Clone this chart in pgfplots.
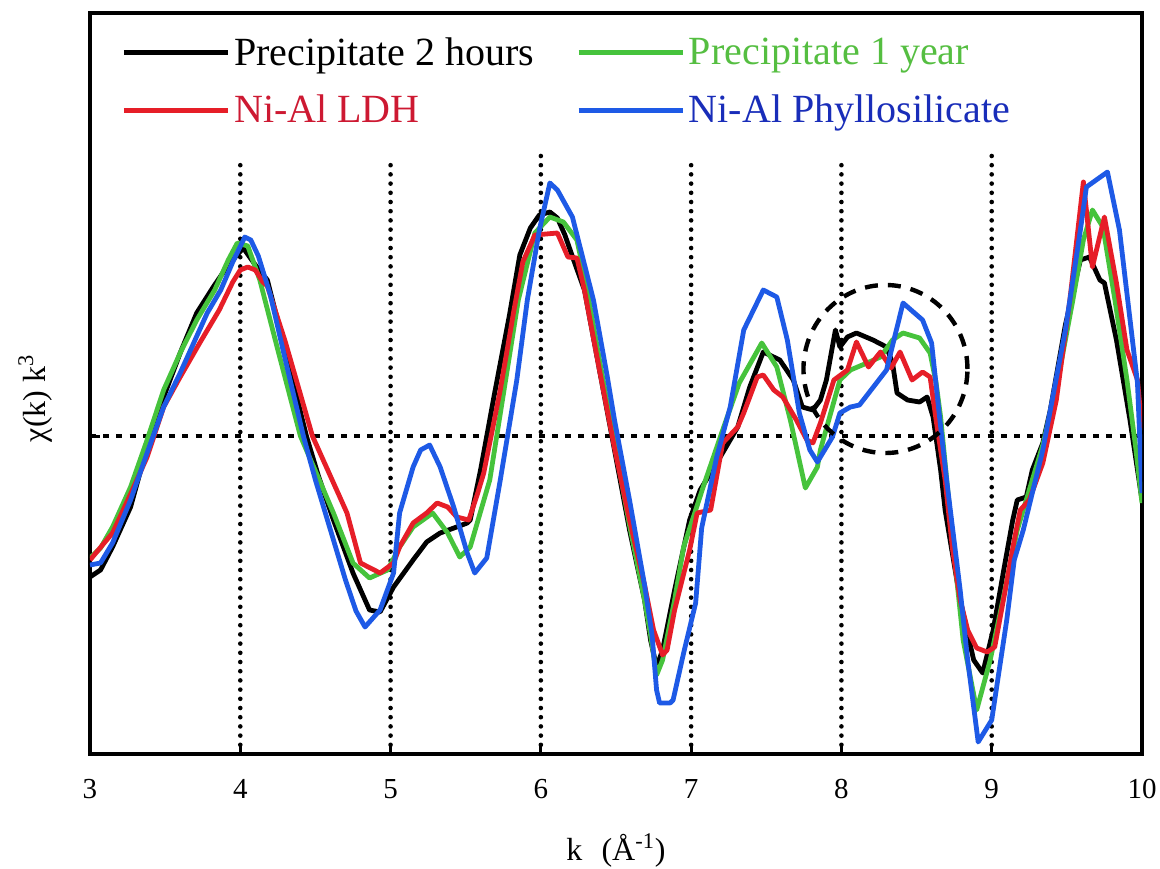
\documentclass[border=0pt]{standalone}
\usepackage{fontspec}
\setmainfont{Liberation Serif}
\usepackage{pgfplots}
\pgfplotsset{compat=1.18}

\definecolor{cgreen}{RGB}{70,195,60}
\definecolor{cred}{RGB}{230,30,40}
\definecolor{cblue}{RGB}{30,90,230}
\definecolor{tgreen}{RGB}{85,190,65}
\definecolor{tred}{RGB}{205,25,50}
\definecolor{tblue}{RGB}{25,45,185}

\tikzset{
  guide/.style={black, line width=2.3pt, line cap=round, dash pattern=on 0pt off 4.6pt},
  zeroline/.style={black, line width=1.7pt, dash pattern=on 3pt off 3.6pt},
  curve/.style={line width=2.4pt, line join=round},
}

\begin{document}
\begin{tikzpicture}
\path[use as bounding box] (-45pt,-57pt) rectangle (535pt,377pt);
\begin{axis}[
  at={(0pt,0pt)}, anchor=south west,
  scale only axis, width=526pt, height=370.5pt,
  xmin=3, xmax=10, ymin=-3.18, ymax=4.23,
  axis line style={line width=2pt},
  xtick={3,4,5,6,7,8,9,10},
  ytick={0}, yticklabels={},
  tick align=inside, xtick pos=bottom, ytick pos=left,
  major tick length=5pt,
  tick style={black, line width=1.5pt},
  /pgf/number format/assume math mode=true,
  ticklabel style={font=\fontsize{14.5}{16}\selectfont},
  xticklabel style={yshift=-9pt},
  xlabel={k\hspace{0.6em}(Å\textsuperscript{-1})},
  ylabel={χ(k) k\textsuperscript{3}},
  label style={font=\fontsize{16}{18}\selectfont},
  xlabel style={at={(axis description cs:0.5,-0.13)}, anchor=center},
  ylabel style={at={(axis description cs:-0.052,0.48)}, anchor=center, rotate=0},
  legend columns=2,
  legend image code/.code={\draw[#1] (0pt,0pt) -- (52pt,0pt);},
  legend style={
    at={(axis description cs:0,1)}, anchor=north west,
    xshift=15.5pt, yshift=-10pt,
    draw=none, fill=none, inner sep=0pt,
    font=\fontsize{20}{24}\selectfont,
    row sep=9.5pt,
    nodes={inner sep=2pt},
    cells={anchor=west},
    /tikz/column 2/.style={column sep=19pt},
  },
]
% reference grid
\addplot[guide, forget plot] coordinates {(4,-3.18) (4,2.77)};
\addplot[guide, forget plot] coordinates {(5,-3.18) (5,2.77)};
\addplot[guide, forget plot] coordinates {(6,-3.18) (6,2.88)};
\addplot[guide, forget plot] coordinates {(7,-3.18) (7,2.77)};
\addplot[guide, forget plot] coordinates {(8,-3.18) (8,2.77)};
\addplot[guide, forget plot] coordinates {(9,-3.18) (9,2.88)};
\addplot[zeroline, forget plot] coordinates {(3,0) (10,0)};

% Precipitate 2 hours
\addplot[curve, black] coordinates {
(3.00,-1.41) (3.07,-1.34) (3.15,-1.11) (3.27,-0.71) (3.38,-0.11) (3.49,0.39)
(3.60,0.83) (3.71,1.23) (3.82,1.49) (3.92,1.71) (4.02,1.88) (4.10,1.71)
(4.18,1.56) (4.30,0.85) (4.44,0.00) (4.52,-0.40) (4.62,-0.84) (4.75,-1.37)
(4.86,-1.74) (4.93,-1.76) (5.02,-1.51) (5.15,-1.24) (5.24,-1.06) (5.33,-0.97)
(5.44,-0.91) (5.51,-0.87) (5.53,-0.84) (5.60,-0.33) (5.69,0.41) (5.79,1.20)
(5.86,1.81) (5.93,2.08) (5.99,2.21) (6.06,2.24) (6.11,2.18) (6.16,2.01)
(6.23,1.71) (6.29,1.46) (6.39,0.66) (6.49,-0.14) (6.59,-0.94) (6.69,-1.64)
(6.73,-2.04) (6.77,-2.31) (6.81,-2.14) (6.89,-1.54) (6.99,-0.84) (7.06,-0.54)
(7.17,-0.27) (7.31,0.09) (7.39,0.49) (7.48,0.84) (7.59,0.76) (7.68,0.56)
(7.74,0.29) (7.81,0.26) (7.86,0.36) (7.90,0.56) (7.96,1.06) (7.99,0.89)
(8.04,0.99) (8.10,1.03) (8.21,0.96) (8.30,0.89) (8.34,0.73) (8.37,0.43)
(8.44,0.36) (8.52,0.34) (8.57,0.39) (8.61,0.19) (8.66,-0.34) (8.69,-0.74)
(8.79,-1.64) (8.88,-2.24) (8.94,-2.37) (9.01,-1.94) (9.08,-1.34) (9.14,-0.84)
(9.17,-0.64) (9.23,-0.61) (9.27,-0.34) (9.34,-0.07) (9.39,0.26) (9.49,1.11)
(9.59,1.76) (9.65,1.79) (9.72,1.56) (9.75,1.53) (9.83,0.96) (9.92,0.16)
(10.00,-0.64)
};
\addlegendentry{Precipitate 2 hours}

% Precipitate 1 year
\addplot[curve, cgreen] coordinates {
(3.00,-1.22) (3.07,-1.12) (3.15,-0.91) (3.27,-0.51) (3.38,-0.04) (3.49,0.46)
(3.60,0.83) (3.71,1.16) (3.83,1.46) (3.92,1.76) (3.98,1.93) (4.05,1.90)
(4.13,1.56) (4.25,0.86) (4.40,0.00) (4.62,-0.77) (4.75,-1.27) (4.86,-1.42)
(4.98,-1.34) (5.06,-1.11) (5.15,-0.91) (5.28,-0.77) (5.38,-0.97) (5.46,-1.21)
(5.53,-1.11) (5.66,-0.44) (5.85,1.36) (5.96,2.03) (6.06,2.19) (6.15,2.14)
(6.24,1.96) (6.29,1.61) (6.39,0.76) (6.49,-0.07) (6.59,-0.89) (6.69,-1.64)
(6.73,-1.99) (6.77,-2.39) (6.81,-2.24) (6.89,-1.64) (6.95,-1.11) (7.08,-0.51)
(7.21,0.06) (7.32,0.53) (7.47,0.93) (7.57,0.69) (7.66,0.16) (7.76,-0.52)
(7.84,-0.31) (7.86,-0.14) (7.99,0.56) (8.06,0.66) (8.17,0.73) (8.26,0.79)
(8.34,0.96) (8.41,1.03) (8.52,0.98) (8.59,0.83) (8.63,0.53) (8.66,0.19)
(8.74,-1.04) (8.81,-2.04) (8.90,-2.74) (8.99,-2.24) (9.07,-1.67) (9.17,-0.94)
(9.34,-0.09) (9.44,0.56) (9.54,1.36) (9.61,1.96) (9.67,2.26) (9.74,2.09)
(9.82,1.36) (9.90,0.56) (9.96,-0.14) (10.00,-0.67)
};
\addlegendentry{\textcolor{tgreen}{Precipitate 1 year}}

% Ni-Al LDH
\addplot[curve, cred] coordinates {
(3.00,-1.24) (3.15,-0.97) (3.27,-0.58) (3.38,-0.21) (3.49,0.29) (3.60,0.59)
(3.73,0.93) (3.86,1.26) (3.95,1.54) (4.00,1.66) (4.05,1.69) (4.10,1.66)
(4.15,1.54) (4.18,1.50) (4.30,0.94) (4.48,0.00) (4.71,-0.77) (4.80,-1.27)
(4.93,-1.37) (5.02,-1.27) (5.06,-1.11) (5.15,-0.87) (5.24,-0.77) (5.31,-0.67)
(5.38,-0.71) (5.44,-0.81) (5.52,-0.84) (5.58,-0.57) (5.62,-0.37) (5.73,0.46)
(5.82,1.25) (5.88,1.74) (5.96,2.01) (6.11,2.03) (6.18,1.79) (6.24,1.78)
(6.29,1.46) (6.39,0.66) (6.49,-0.12) (6.59,-0.84) (6.69,-1.49) (6.75,-1.94)
(6.81,-2.19) (6.84,-2.14) (6.89,-1.74) (6.99,-1.14) (7.04,-0.77) (7.13,-0.74)
(7.21,-0.07) (7.31,0.09) (7.35,0.23) (7.44,0.59) (7.48,0.61) (7.55,0.46)
(7.61,0.39) (7.70,0.16) (7.77,-0.04) (7.81,-0.07) (7.86,0.13) (7.95,0.56)
(8.04,0.66) (8.10,0.94) (8.18,0.69) (8.26,0.84) (8.33,0.68) (8.39,0.84)
(8.47,0.56) (8.54,0.64) (8.59,0.59) (8.63,0.16) (8.69,-0.44) (8.74,-1.14)
(8.79,-1.64) (8.84,-1.94) (8.90,-2.12) (8.97,-2.16) (9.02,-2.11) (9.09,-1.54)
(9.15,-1.04) (9.19,-0.74) (9.25,-0.64) (9.34,-0.27) (9.43,0.36) (9.52,1.36)
(9.61,2.54) (9.67,1.69) (9.75,2.19) (9.83,1.53) (9.90,0.86) (9.97,0.56)
(10.00,0.06)
};
\addlegendentry{\textcolor{tred}{Ni-Al LDH}}

% Ni-Al Phyllosilicate
\addplot[curve, cblue] coordinates {
(3.00,-1.29) (3.07,-1.27) (3.15,-1.07) (3.27,-0.64) (3.38,-0.17) (3.49,0.29)
(3.60,0.63) (3.78,1.23) (3.87,1.46) (3.95,1.74) (4.03,1.99) (4.07,1.96)
(4.12,1.80) (4.20,1.41) (4.30,0.76) (4.42,0.00) (4.50,-0.44) (4.60,-0.94)
(4.70,-1.44) (4.77,-1.75) (4.83,-1.91) (4.93,-1.74) (5.02,-1.37) (5.06,-0.77)
(5.15,-0.31) (5.20,-0.14) (5.26,-0.09) (5.33,-0.31) (5.42,-0.71) (5.51,-1.17)
(5.56,-1.37) (5.64,-1.22) (5.73,-0.44) (5.84,0.56) (5.91,1.36) (5.99,2.06)
(6.06,2.53) (6.11,2.46) (6.21,2.19) (6.35,1.36) (6.44,0.61) (6.49,0.16)
(6.59,-0.64) (6.69,-1.49) (6.74,-1.99) (6.77,-2.54) (6.79,-2.67) (6.86,-2.67)
(6.88,-2.64) (6.95,-2.17) (7.03,-1.67) (7.07,-0.92) (7.17,-0.21) (7.26,0.29)
(7.35,1.06) (7.48,1.46) (7.57,1.39) (7.64,0.96) (7.72,0.23) (7.79,-0.14)
(7.84,-0.26) (7.94,-0.01) (7.99,0.23) (8.06,0.29) (8.12,0.31) (8.30,0.66)
(8.41,1.33) (8.54,1.16) (8.60,0.93) (8.65,0.23) (8.70,-0.44) (8.79,-1.54)
(8.84,-2.24) (8.91,-3.06) (9.00,-2.84) (9.10,-1.84) (9.15,-1.24) (9.21,-0.94)
(9.34,-0.14) (9.49,1.06) (9.59,2.06) (9.63,2.49) (9.77,2.64) (9.85,2.06)
(9.97,0.53) (10.00,-0.57)
};
\addlegendentry{\textcolor{tblue}{Ni-Al Phyllosilicate}}

% highlighted region
\draw[black, line width=2.2pt, dash pattern=on 6.5pt off 5pt]
  (axis cs:8.293,0.67) ellipse [x radius=41pt, y radius=42pt];
\end{axis}
\end{tikzpicture}
\end{document}
